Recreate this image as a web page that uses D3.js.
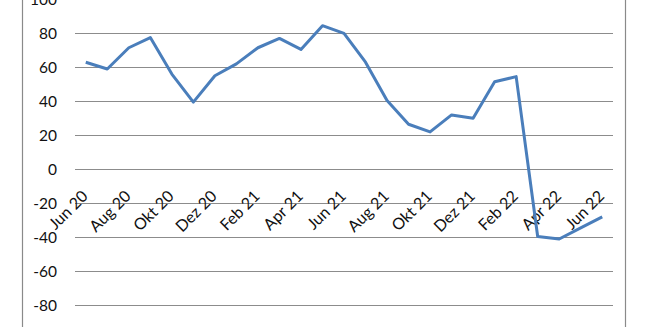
<!DOCTYPE html>
<html>
<head>
<meta charset="utf-8">
<script src="https://cdn.jsdelivr.net/npm/d3@7"></script>
<style>
  body { margin: 0; background: #fff; }
  svg { display: block; }
</style>
</head>
<body>
<div id="chart"></div>
<script>
// monthly values, Jun 20 - Jun 22
var months = ["Jun 20", "Jul 20", "Aug 20", "Sep 20", "Okt 20", "Nov 20", "Dez 20",
    "Jan 21", "Feb 21", "Mrz 21", "Apr 21", "Mai 21", "Jun 21", "Jul 21", "Aug 21",
    "Sep 21", "Okt 21", "Nov 21", "Dez 21", "Jan 22", "Feb 22", "Mrz 22", "Apr 22",
    "Mai 22", "Jun 22"];
var values = [63, 59, 71.5, 77.5, 56, 39.5, 55, 62, 71.5, 77, 70.5, 84.5, 80, 63,
    40.5, 26.5, 22, 32, 30, 51.5, 54.5, -39.5, -41, -34.5, -28];
var shownLabels = ["Jun 20", "Aug 20", "Okt 20", "Dez 20", "Feb 21", "Apr 21", "Jun 21",
    "Aug 21", "Okt 21", "Dez 21", "Feb 22", "Apr 22", "Jun 22"];
var yTicks = [-80, -60, -40, -20, 0, 20, 40, 60, 80, 100];

var width = 645, height = 327;
var margin = { top: -0.7, left: 75, right: 32 };

var svg = d3.select("#chart").append("svg")
    .attr("width", width)
    .attr("height", height);

// chart frame (cut by the picture edges)
svg.append("rect")
    .attr("x", 22.5).attr("y", -10)
    .attr("width", 603).attr("height", height + 20)
    .attr("fill", "none")
    .attr("stroke", "#8a8a8a")
    .attr("stroke-width", 1.2);

var x = d3.scaleBand()
    .domain(months)
    .range([margin.left, width - margin.right]);

var y = d3.scaleLinear()
    .domain([0, 100])
    .range([169.3, margin.top]);

// gridlines
svg.append("g")
    .selectAll("line")
    .data(yTicks)
    .join("line")
    .attr("x1", margin.left)
    .attr("x2", width - margin.right)
    .attr("y1", d => Math.round(y(d)) + 0.5)
    .attr("y2", d => Math.round(y(d)) + 0.5)
    .attr("stroke", "#8c8c8c")
    .attr("stroke-width", 1);

// y labels
svg.append("g")
    .selectAll("text")
    .data(yTicks)
    .join("text")
    .attr("x", 57)
    .attr("y", d => y(d))
    .attr("dy", "0.35em")
    .attr("text-anchor", "end")
    .attr("font-family", "Lato, 'Open Sans', sans-serif")
    .attr("font-size", 15.5)
    .attr("fill", "#111")
    .text(d => d);

// x labels, rotated, hanging under the zero line
svg.append("g")
    .selectAll("text")
    .data(shownLabels)
    .join("text")
    .attr("transform", d => "translate(" + (x(d) + x.bandwidth() / 2 + 3) + "," + (y(0) + 28) + ") rotate(-45)")
    .attr("text-anchor", "end")
    .attr("font-family", "Lato, 'Open Sans', sans-serif")
    .attr("font-size", 16)
    .attr("fill", "#111")
    .text(d => d);

var line = d3.line()
    .x((d, i) => x(months[i]) + x.bandwidth() / 2)
    .y(d => y(d));

svg.append("path")
    .datum(values)
    .attr("d", line)
    .attr("fill", "none")
    .attr("stroke", "#4a7ebb")
    .attr("stroke-width", 3)
    .attr("stroke-linejoin", "round");
</script>
</body>
</html>
